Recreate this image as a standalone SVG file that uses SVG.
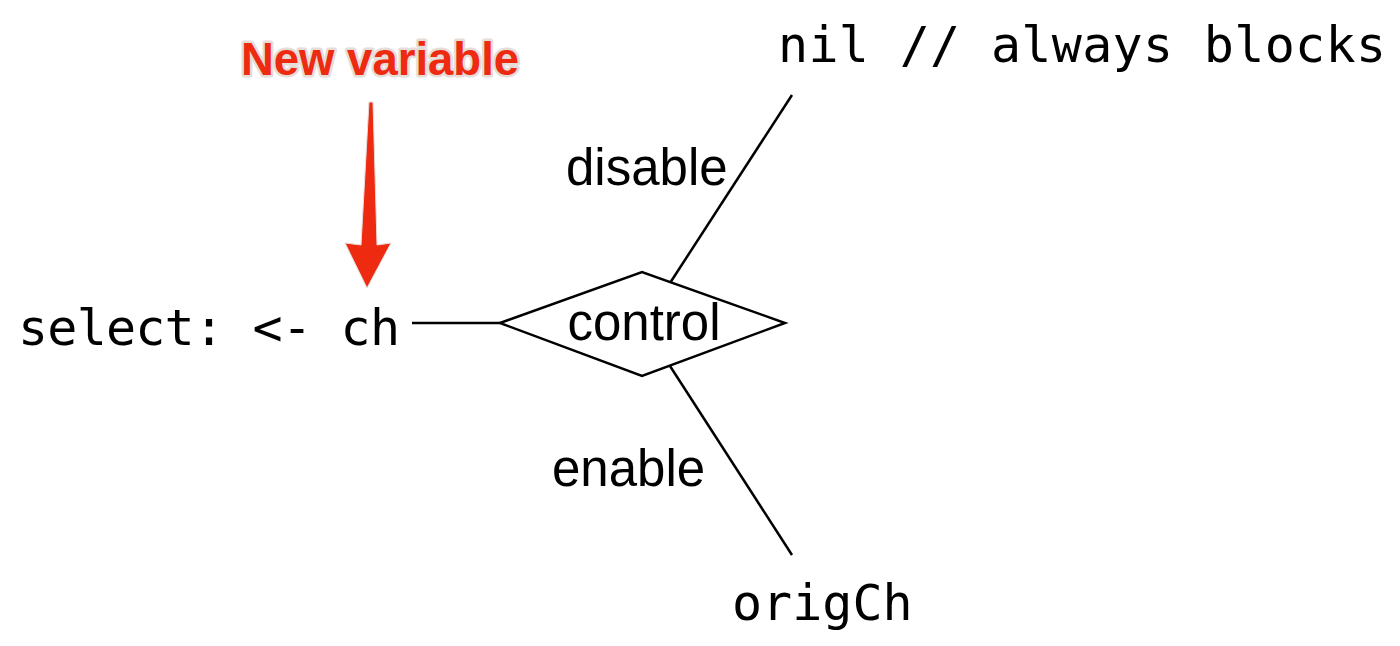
<svg xmlns="http://www.w3.org/2000/svg" width="1400" height="646" viewBox="0 0 1400 646">
<style>
.mono{font-family:"DejaVu Sans Mono","Liberation Mono",monospace;font-size:50px;fill:#000}
.sans{font-family:"Liberation Sans",Arial,sans-serif;font-size:51px;fill:#000}
.ln{stroke:#000;stroke-width:2.5;fill:none}
.note{font-family:"Liberation Sans",Arial,sans-serif;font-weight:bold;font-size:45.5px;fill:#ee2a10;stroke:#e6dcd8;stroke-width:5;paint-order:stroke;stroke-linejoin:round}
</style>
<rect width="1400" height="646" fill="#fff"/>
<g id="connectors">
<line class="ln" x1="412" y1="323" x2="500" y2="323"/>
<line class="ln" x1="670" y1="283" x2="792" y2="95"/>
<line class="ln" x1="670" y1="366" x2="792" y2="555"/>
</g>
<g id="select"><text class="mono" x="18" y="345" textLength="382" lengthAdjust="spacing">select: &lt;- ch</text></g>
<g id="control">
<polygon points="500,323 642,272 785,323 642,376" fill="#fff" stroke="#000" stroke-width="2.5"/>
<text class="sans" x="644" y="340" text-anchor="middle">control</text>
</g>
<g id="nil"><text class="mono" x="778" y="62" textLength="608" lengthAdjust="spacing">nil // always blocks</text></g>
<g id="origCh"><text class="mono" x="732" y="620">origCh</text></g>
<g id="labels">
<text class="sans" x="566" y="185">disable</text>
<text class="sans" x="552" y="486">enable</text>
</g>
<g id="note">
<text class="note" x="380" y="75" text-anchor="middle">New variable</text>
<polygon points="369,102 373,102 377,245 391,243 367,288 345,243 361,245" fill="#ee2a10" stroke="#e6dcd8" stroke-width="1"/>
</g>
</svg>
